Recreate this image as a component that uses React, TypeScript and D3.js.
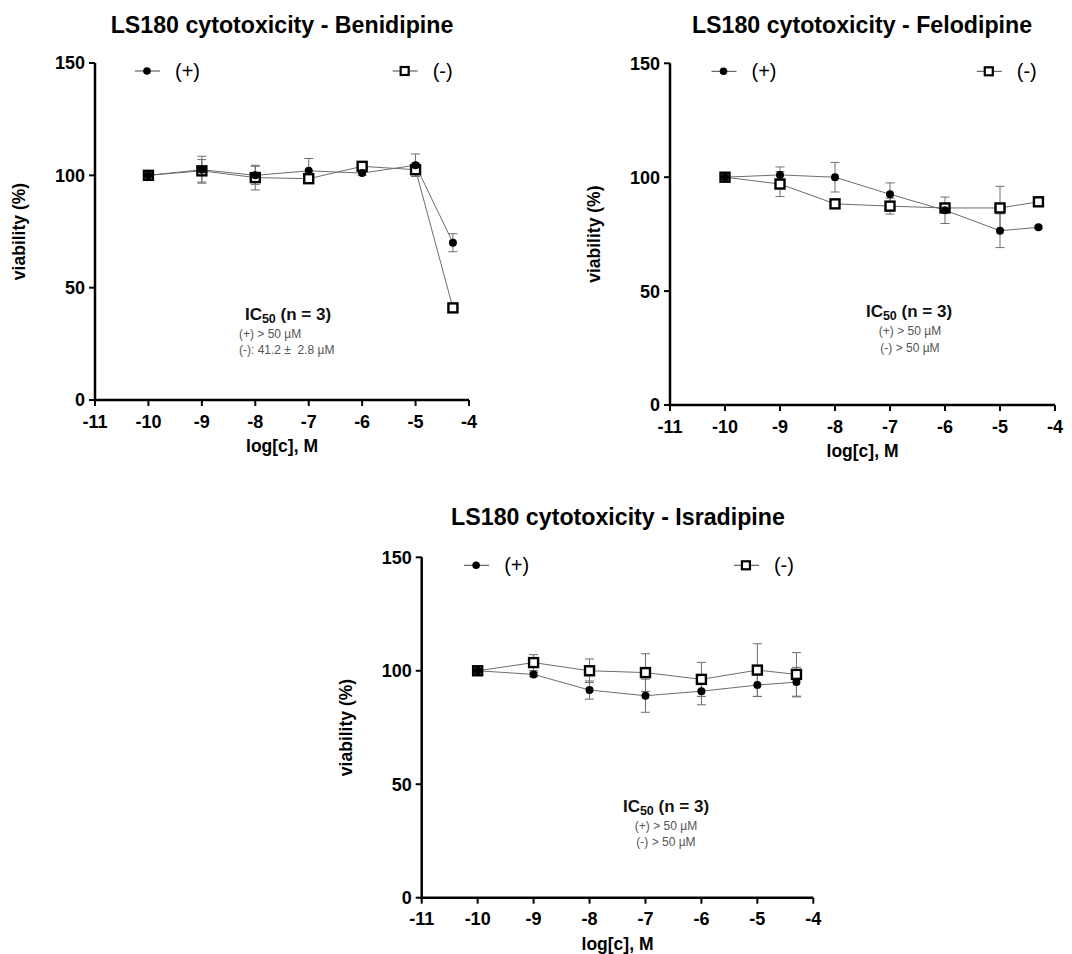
import React from "react";
import * as d3 from "d3";

// ---- data ----
const logConc = [-10, -9, -8, -7, -6, -5, -4.301];
const xTicks = [-11, -10, -9, -8, -7, -6, -5, -4];
const yTicks = [0, 50, 100, 150];

const titles = [
  "LS180 cytotoxicity - Benidipine",
  "LS180 cytotoxicity - Felodipine",
  "LS180 cytotoxicity - Isradipine",
];
const seriesNames = ["(+)", "(-)"];

const benPlus = [100, 102.5, 100, 102, 101, 104.5, 70];
const benPlusErr = [0.5, 6, 4, 5.5, 1, 5, 4];
const benMinus = [100, 102, 99, 98.5, 104, 102.5, 41];
const benMinusErr = [0.5, 5, 5.5, 1, 1, 3, 1];

const felPlus = [100, 101, 100, 92.5, 85.5, 76.5, 78];
const felPlusErr = [0.5, 3.5, 6.5, 5, 5.8, 7.4, 0.5];
const felMinus = [100, 97, 88.3, 87.3, 86.5, 86.5, 89.2];
const felMinusErr = [0.5, 5.5, 1.5, 3.5, 1.5, 9.5, 1.5];

const isrPlus = [100, 98.4, 91.5, 89, 91, 93.7, 95];
const isrPlusErr = [0.5, 1, 4, 7.3, 6, 5, 6.5];
const isrMinus = [100, 103.6, 100, 99.2, 96.2, 100.3, 98.4];
const isrMinusErr = [0.5, 3.5, 5.2, 8.3, 7.5, 11.6, 9.6];

const icLines = [
  ["(+) > 50 \u00b5M", "(-): 41.2 \u00b1  2.8 \u00b5M"],
  ["(+) > 50 \u00b5M", "(-) > 50 \u00b5M"],
  ["(+) > 50 \u00b5M", "(-) > 50 \u00b5M"],
];

// ---- layout ----
const layouts = [
  { x0: 95, x1: 469, yTop: 63, yBot: 400, titleX: 282, titleY: 33, icX: 288, icY: 320, subX: 239, subAnchor: "start", sub1Y: 338, sub2Y: 354 },
  { x0: 670, x1: 1055, yTop: 63.3, yBot: 405, titleX: 862, titleY: 33, icX: 909, icY: 317, subX: 910, subAnchor: "middle", sub1Y: 335, sub2Y: 352 },
  { x0: 421.7, x1: 813.3, yTop: 557.3, yBot: 897.7, titleX: 618, titleY: 525, icX: 666, icY: 812, subX: 666, subAnchor: "middle", sub1Y: 830, sub2Y: 846 },
];

const panelData = [
  { plus: benPlus, plusErr: benPlusErr, minus: benMinus, minusErr: benMinusErr },
  { plus: felPlus, plusErr: felPlusErr, minus: felMinus, minusErr: felMinusErr },
  { plus: isrPlus, plusErr: isrPlusErr, minus: isrMinus, minusErr: isrMinusErr },
];

const FONT = "'Liberation Sans', Arial, Helvetica, sans-serif";
const LINE = "#6e6e6e";

function Panel({ idx }: { idx: number }) {
  const L = layouts[idx];
  const D = panelData[idx];
  const x = d3.scaleLinear().domain([-11, -4]).range([L.x0, L.x1]);
  const y = d3.scaleLinear().domain([0, 150]).range([L.yBot, L.yTop]);
  const line = d3
    .line<number>()
    .x((_, i) => x(logConc[i]))
    .y((v) => y(v));

  const errBars = (vals: number[], errs: number[], key: string) =>
    vals.map((v, i) => {
      const cx = x(logConc[i]);
      const yt = y(v + errs[i]);
      const yb = y(v - errs[i]);
      return (
        <g key={key + i} stroke={LINE} strokeWidth={1}>
          <line x1={cx} x2={cx} y1={yt} y2={yb} />
          <line x1={cx - 4.5} x2={cx + 4.5} y1={yt} y2={yt} />
          <line x1={cx - 4.5} x2={cx + 4.5} y1={yb} y2={yb} />
        </g>
      );
    });

  const w = L.x1 - L.x0;
  const legPlusX = L.x0 + 0.139 * w;
  const legMinusX = L.x0 + 0.828 * w;
  const legY = L.yTop + 8;
  const midX = (L.x0 + L.x1) / 2;
  const midY = (L.yTop + L.yBot) / 2;

  return (
    <g fontFamily={FONT}>
      <text x={L.titleX} y={L.titleY} textAnchor="middle" fontWeight="bold" fontSize={23.2} fill="#000">
        {titles[idx]}
      </text>

      {/* axes */}
      <line x1={L.x0} x2={L.x0} y1={L.yTop} y2={L.yBot + 1} stroke="#000" strokeWidth={2.5} />
      <line x1={L.x0 - 1} x2={L.x1} y1={L.yBot} y2={L.yBot} stroke="#000" strokeWidth={2.5} />
      {yTicks.map((t) => (
        <g key={"yt" + t}>
          <line x1={L.x0 - 6} x2={L.x0} y1={y(t)} y2={y(t)} stroke="#000" strokeWidth={2} />
          <text x={L.x0 - 10} y={y(t)} dy="0.36em" textAnchor="end" fontWeight="bold" fontSize={18} fill="#000">
            {String(t)}
          </text>
        </g>
      ))}
      {xTicks.map((t) => (
        <g key={"xt" + t}>
          <line x1={x(t)} x2={x(t)} y1={L.yBot} y2={L.yBot + 6} stroke="#000" strokeWidth={2} />
          <text x={x(t)} y={L.yBot + 27.5} textAnchor="middle" fontWeight="bold" fontSize={18} fill="#000">
            {String(t)}
          </text>
        </g>
      ))}
      <text x={midX} y={L.yBot + 52} textAnchor="middle" fontWeight="bold" fontSize={17.5} fill="#000">
        log[c], M
      </text>
      <text
        transform={`translate(${L.x0 - 70},${midY}) rotate(-90)`}
        textAnchor="middle"
        fontWeight="bold"
        fontSize={17.5}
        fill="#000"
      >
        viability (%)
      </text>

      {/* series lines */}
      <path d={line(D.minus) || ""} fill="none" stroke={LINE} strokeWidth={1} />
      <path d={line(D.plus) || ""} fill="none" stroke={LINE} strokeWidth={1} />
      {errBars(D.minus, D.minusErr, "em")}
      {errBars(D.plus, D.plusErr, "ep")}
      {D.minus.map((v, i) => (
        <rect
          key={"sq" + i}
          x={x(logConc[i]) - 4.5}
          y={y(v) - 4.5}
          width={9}
          height={9}
          fill="#fff"
          stroke="#000"
          strokeWidth={2.4}
        />
      ))}
      {D.plus.map((v, i) => (
        <circle key={"c" + i} cx={x(logConc[i])} cy={y(v)} r={4} fill="#000" />
      ))}

      {/* legend */}
      <line x1={legPlusX - 12} x2={legPlusX + 13} y1={legY} y2={legY} stroke="#444" strokeWidth={1} />
      <circle cx={legPlusX} cy={legY} r={3.8} fill="#000" />
      <text x={legPlusX + 28} y={legY} dy="0.35em" fontSize={20} fill="#000">
        {seriesNames[0]}
      </text>
      <line x1={legMinusX - 12} x2={legMinusX + 13} y1={legY} y2={legY} stroke="#444" strokeWidth={1} />
      <rect x={legMinusX - 4} y={legY - 4} width={8} height={8} fill="#fff" stroke="#000" strokeWidth={2.2} />
      <text x={legMinusX + 28} y={legY} dy="0.35em" fontSize={20} fill="#000">
        {seriesNames[1]}
      </text>

      {/* IC50 annotation */}
      <text x={L.icX} y={L.icY} textAnchor="middle" fontWeight="bold" fontSize={17} fill="#111">
        IC
        <tspan fontSize={12.5} dy={3}>50</tspan>
        <tspan dy={-3}> (n = 3)</tspan>
      </text>
      <text x={L.subX} y={L.sub1Y} textAnchor={L.subAnchor} fontSize={12} fill="#555" style={{ whiteSpace: "pre" }}>
        {icLines[idx][0]}
      </text>
      <text x={L.subX} y={L.sub2Y} textAnchor={L.subAnchor} fontSize={12} fill="#555" style={{ whiteSpace: "pre" }}>
        {icLines[idx][1]}
      </text>
    </g>
  );
}

export default function App() {
  return (
    <svg
      width={1072}
      height={954}
      viewBox="0 0 1072 954"
      style={{ position: "absolute", left: 0, top: 0, background: "#fff" }}
    >
      <rect width={1072} height={954} fill="#fff" />
      {[0, 1, 2].map((i) => (
        <Panel key={i} idx={i} />
      ))}
    </svg>
  );
}
